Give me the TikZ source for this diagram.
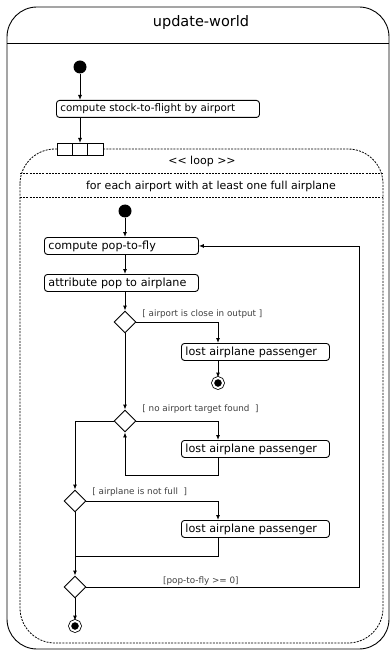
\documentclass[tikz,border=0pt]{standalone}
\usepackage{fontspec}
\setmainfont{DejaVu Sans}
\usetikzlibrary{arrows.meta,positioning,shapes.geometric,calc}

\begin{document}
\begin{tikzpicture}[
  x=1pt, y=-1pt,
  line width=0.9pt,
  box/.style={draw,rounded corners=3pt,fill=white,inner xsep=4pt,inner ysep=0pt,minimum height=17pt,align=left,anchor=north west,font=\fontsize{10.3}{12}\selectfont},
  inbox/.style={box,font=\fontsize{11.2}{13}\selectfont},
  pinbox/.style={draw,fill=white,inner sep=0pt,outer sep=0pt,minimum width=15.3pt,minimum height=12pt},
  decision/.style={draw,diamond,fill=white,inner sep=0pt,minimum width=22pt,minimum height=22pt},
  startdot/.style={circle,fill=black,inner sep=0pt,minimum size=13pt},
  enddot/.style={circle,draw,fill=black,double=white,double distance=2pt,line width=0.8pt,inner sep=0pt,minimum size=10pt},
  guard/.style={font=\fontsize{8.8}{10}\selectfont,text=black!75,inner sep=1pt},
  frame/.style={line width=0.8pt,dash pattern=on 2pt off 1.2pt},
  arrow/.style={-{Latex[length=5pt,width=4pt]}}
]
  \useasboundingbox (0,0) rectangle (390,652);

  % outer activity
  \draw[rounded corners=30pt] (7,7) rectangle (389,649);
  \draw (7,43) -- (389,43);
  \node[font=\fontsize{14.5}{16}\selectfont] (title) at (201,23) {update-world};

  \node[startdot] (init) at (80,67) {};
  \node[box,text width=195pt] (stock) at (56,100) {compute stock-to-flight by airport};

  % loop region
  \draw[frame,rounded corners=35pt] (20,149) rectangle (383,643);
  \draw[frame] (20,173) -- (383,173);
  \draw[frame] (20,197) -- (383,197);
  \node[font=\fontsize{11}{13}\selectfont] (looplbl) at (202,161) {<{}< loop >{}>};
  \node[font=\fontsize{11}{13}\selectfont] (eachlbl) at (211,186) {for each airport with at least one full airplane};

  \node[pinbox] (pin2) at (80,149) {};
  \node[pinbox,left=0pt of pin2] (pin1) {};
  \node[pinbox,right=0pt of pin2] (pin3) {};

  \node[startdot] (init2) at (125,211) {};
  \node[inbox,text width=146pt] (pop) at (44,237) {compute pop-to-fly};
  \node[inbox,text width=146pt] (attr) at (44,274) {attribute pop to airplane};

  \node[decision] (d1) at (125,322) {};
  \node[decision] (d2) at (125,421) {};
  \node[decision] (d3) at (75,501) {};
  \node[decision] (d4) at (75,587) {};

  \node[inbox,text width=140pt] (lost1) at (181,343) {lost airplane passenger};
  \node[inbox,text width=140pt] (lost2) at (181,440) {lost airplane passenger};
  \node[inbox,text width=140pt] (lost3) at (181,520) {lost airplane passenger};

  \node[enddot] (end1) at (218,383) {};
  \node[enddot] (end2) at (75,626) {};

  \node[guard,anchor=west] (g1) at (141,314) {[ airport is close in output ]};
  \node[guard,anchor=west] (g2) at (141,409) {[ no airport target found~ ]};
  \node[guard,anchor=west] (g3) at (91,492) {[ airplane is not full~ ]};

  \coordinate (col) at (218,343);
  \coordinate (merge) at (75,556);
  \coordinate (back) at (359,587);

  \draw[arrow] (init) -- (init |- stock.north);
  \draw[arrow] (pin2 |- stock.south) -- (pin2.north);
  \draw[arrow] (init2) -- (init2 |- pop.north);
  \draw[arrow] (init2 |- pop.south) -- (init2 |- attr.north);
  \draw[arrow] (init2 |- attr.south) -- (d1);
  \draw[arrow] (d1.east) -| (col |- lost1.north);
  \draw[arrow] (col |- lost1.south) -- (end1);
  \draw[arrow] (d1) -- (d2);
  \draw[arrow] (d2.east) -| (col |- lost2.north);
  \draw[arrow] (col |- lost2.south) -- ++(0,18) -| (d2.south);
  \draw[arrow] (d2.west) -| (d3.north);
  \draw[arrow] (d3.east) -| (col |- lost3.north);
  \draw (col |- lost3.south) |- (merge);
  \draw[arrow] (d3) -- (d4);
  \draw[arrow] (d4.east) -- node[guard,above,pos=0.42] {[pop-to-fly >= 0]} (back) |- (pop.east);
  \draw[arrow] (d4) -- (end2);
\end{tikzpicture}
\end{document}
